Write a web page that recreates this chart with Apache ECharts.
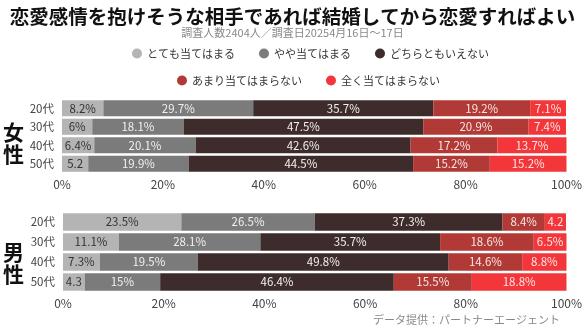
<!DOCTYPE html>
<html><head><meta charset="utf-8">
<script src="https://cdn.jsdelivr.net/npm/echarts@6/dist/echarts.min.js"></script>
<style>html,body{margin:0;padding:0;background:#fff}#c{width:585px;height:329px}</style>
</head><body><div id="c"></div>
<script>
const categories = ['20代','30代','40代','50代'];
const seriesNames = ['とても当てはまる','やや当てはまる','どちらともいえない','あまり当てはまらない','全く当てはまらない'];
const xTicks = ['0%','20%','40%','60%','80%','100%'];
// 女性
const femaleVery = [8.2, 6, 6.4, 5.2];
const femaleSomewhat = [29.7, 18.1, 20.1, 19.9];
const femaleNeutral = [35.7, 47.5, 42.6, 44.5];
const femaleNotMuch = [19.2, 20.9, 17.2, 15.2];
const femaleNotAtAll = [7.1, 7.4, 13.7, 15.2];
// 男性
const maleVery = [23.5, 11.1, 7.3, 4.3];
const maleSomewhat = [26.5, 28.1, 19.5, 15];
const maleNeutral = [37.3, 35.7, 49.8, 46.4];
const maleNotMuch = [8.4, 18.6, 14.6, 15.5];
const maleNotAtAll = [4.2, 6.5, 8.8, 18.8];

const colors = ['#b4b4b4','#7b7b7b','#3e2c2c','#b23a36','#f2363a'];
const labelColors = ['#333','#f0f0f0','#f0f0f0','#f5e6e6','#fde6e6'];
const font = '"Noto Sans CJK JP", "Noto Sans", sans-serif';

const female = [femaleVery, femaleSomewhat, femaleNeutral, femaleNotMuch, femaleNotAtAll];
const male = [maleVery, maleSomewhat, maleNeutral, maleNotMuch, maleNotAtAll];

function mk(arr, gi){
  return arr.map((d, i) => ({
    name: seriesNames[i], type: 'bar', stack: 's' + gi,
    xAxisIndex: gi, yAxisIndex: gi, data: d,
    barCategoryGap: '13%',
    itemStyle: {color: colors[i]},
    label: {show: true, position: 'inside', fontFamily: font, fontSize: 11.5,
      color: labelColors[i],
      formatter: p => p.value < 5.5 ? String(p.value) : p.value + '%'}
  }));
}

const xAx = (gi) => ({gridIndex: gi, type: 'value', min: 0, max: 100, interval: 20,
  axisLine: {show: false}, axisTick: {show: false}, splitLine: {show: false},
  axisLabel: {fontFamily: font, fontSize: 12, color: '#444', margin: 5,
    formatter: v => xTicks[v / 20]}});
const yAx = (gi) => ({gridIndex: gi, type: 'category', data: categories, inverse: true,
  axisLine: {show: false}, axisTick: {show: false},
  axisLabel: {fontFamily: font, fontSize: 11.5, color: '#444', margin: 8}});

const legendCommon = {icon: 'circle', itemWidth: 10, itemHeight: 10, itemGap: 24,
  textStyle: {fontFamily: font, fontSize: 11, color: '#333', padding: [0,0,0,0]}};

const chart = echarts.init(document.getElementById('c'));
chart.setOption({
  animation: false,
  color: colors,
  title: [
    {text: '恋愛感情を抱けそうな相手であれば結婚してから恋愛すればよい', left: 'center', top: 2,
      textStyle: {fontFamily: font, fontSize: 19.5, fontWeight: 'bold', color: '#111'}},
    {text: '調査人数2404人／調査日20254月16日〜17日', left: 'center', top: 22,
      textStyle: {fontFamily: font, fontSize: 11, fontWeight: 'normal', color: '#888'}},
    {text: 'データ提供：パートナーエージェント', right: 20, top: 309,
      textStyle: {fontFamily: font, fontSize: 11, fontWeight: 'normal', color: '#888'}}
  ],
  legend: [
    Object.assign({data: seriesNames.slice(0,3), top: 43, left: 127}, legendCommon),
    Object.assign({data: seriesNames.slice(3), top: 70, left: 172}, legendCommon)
  ],
  graphic: [
    {type: 'text', left: 3, top: 121, style: {text: '女\n性', fontFamily: font, fontSize: 21, fontWeight: 'bold', fill: '#111', lineHeight: 22}},
    {type: 'text', left: 3, top: 241, style: {text: '男\n性', fontFamily: font, fontSize: 21, fontWeight: 'bold', fill: '#111', lineHeight: 22}}
  ],
  grid: [
    {left: 62, right: 17, top: 99, height: 74},
    {left: 63, right: 13, top: 212, height: 80}
  ],
  xAxis: [xAx(0), xAx(1)],
  yAxis: [yAx(0), yAx(1)],
  series: [...mk(female, 0), ...mk(male, 1)]
});
</script></body></html>
